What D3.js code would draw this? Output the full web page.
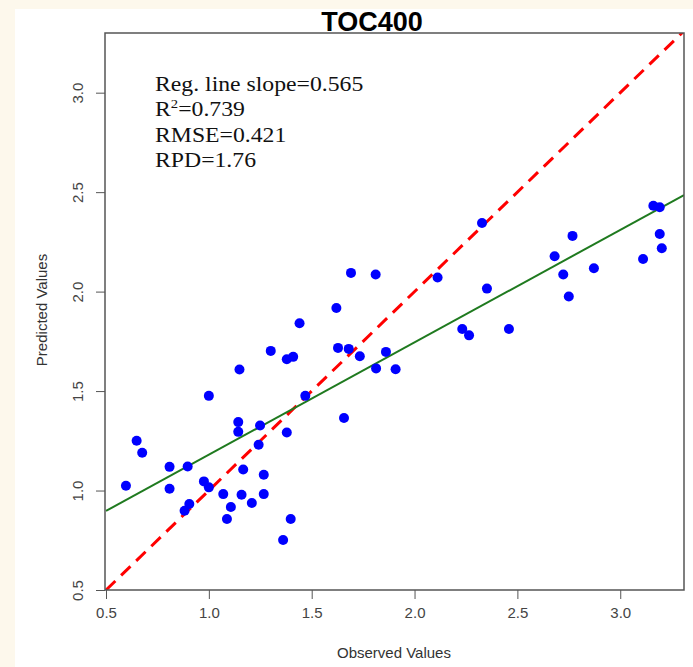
<!DOCTYPE html>
<html>
<head>
<meta charset="utf-8">
<script src="https://cdn.jsdelivr.net/npm/d3@7"></script>
<style>
  body { margin: 0; background: #fdf8ec; }
</style>
</head>
<body>
<div id="chart"></div>
<script>
const observed = [
  0.597, 0.649, 0.676, 0.809, 0.809, 0.897, 0.882, 0.905, 0.976, 1.000,
  1.000, 1.070, 1.088, 1.107, 1.143, 1.143, 1.149, 1.167, 1.159, 1.209,
  1.242, 1.249, 1.267, 1.267, 1.301, 1.361, 1.379, 1.398, 1.379, 1.410,
  1.441, 1.469, 1.620, 1.628, 1.657, 1.680, 1.691, 1.734, 1.811, 1.813,
  1.861, 1.908, 2.112, 2.232, 2.265, 2.328, 2.352, 2.459, 2.681, 2.723,
  2.750, 2.768, 2.872, 3.111, 3.161, 3.192, 3.192, 3.202
];
const predicted = [
  1.024, 1.250, 1.190, 1.119, 1.009, 1.121, 0.898, 0.932, 1.046, 1.476,
  1.016, 0.982, 0.857, 0.917, 1.344, 1.295, 1.608, 1.106, 0.979, 0.937,
  1.230, 1.327, 1.079, 0.982, 1.702, 0.751, 1.660, 0.857, 1.292, 1.672,
  1.841, 1.476, 1.918, 1.717, 1.365, 1.712, 2.094, 1.675, 2.086, 1.614,
  1.697, 1.610, 2.071, 1.812, 1.780, 2.345, 2.015, 1.812, 2.178, 2.086,
  1.975, 2.280, 2.117, 2.164, 2.432, 2.424, 2.290, 2.218
];
const tickValues = [0.5, 1.0, 1.5, 2.0, 2.5, 3.0];
const regSlope = 0.565;
const regIntercept = 0.615;
const statLines = ['Reg. line slope=0.565', 'R2=0.739', 'RMSE=0.421', 'RPD=1.76'];

const width = 693;
const height = 667;
const plot = { left: 105, right: 684, top: 33, bottom: 590 };

const x = d3.scaleLinear().domain([0.5, 3.31]).range([plot.left + 1, plot.right]);
const y = d3.scaleLinear().domain([0.5, 3.3]).range([plot.bottom, plot.top]);

const svg = d3.select('#chart').append('svg')
  .attr('width', width)
  .attr('height', height)
  .style('display', 'block');

// white panel on the cream page
svg.append('rect')
  .attr('x', 15).attr('y', 9)
  .attr('width', width - 15).attr('height', height - 9)
  .attr('fill', '#ffffff');

svg.append('defs').append('clipPath').attr('id', 'clip')
  .append('rect')
  .attr('x', plot.left).attr('y', plot.top)
  .attr('width', plot.right - plot.left).attr('height', plot.bottom - plot.top);

const xAxis = d3.axisBottom(x).tickValues(tickValues).tickFormat(d3.format('.1f'))
  .tickSize(9).tickPadding(8).tickSizeOuter(0);
const yAxis = d3.axisLeft(y).tickValues(tickValues).tickFormat(d3.format('.1f'))
  .tickSize(9).tickPadding(10).tickSizeOuter(0);

const gx = svg.append('g')
  .attr('transform', 'translate(0,' + plot.bottom + ')')
  .call(xAxis);
gx.select('.domain').remove();

const gy = svg.append('g')
  .attr('transform', 'translate(' + plot.left + ',0)')
  .call(yAxis);
gy.select('.domain').remove();
// R style: y labels run parallel to the axis
gy.selectAll('.tick text')
  .attr('x', 0)
  .attr('y', -27)
  .attr('dy', '0.35em')
  .attr('transform', 'rotate(-90)')
  .style('text-anchor', 'middle');

svg.selectAll('.tick line').attr('stroke', '#555');
svg.selectAll('.tick text')
  .attr('fill', '#444')
  .style('font-family', 'Liberation Sans, Arial, sans-serif')
  .style('font-size', '15px');

const g = svg.append('g').attr('clip-path', 'url(#clip)');

// 1:1 line
g.append('line')
  .attr('x1', x(0.5)).attr('y1', y(0.5))
  .attr('x2', x(3.31)).attr('y2', y(3.31))
  .attr('stroke', '#ff0000')
  .attr('stroke-width', 3)
  .attr('stroke-dasharray', '13,8');

// regression line
const xd = x.domain();
g.append('line')
  .attr('x1', x(xd[0])).attr('y1', y(regIntercept + regSlope * xd[0]))
  .attr('x2', x(xd[1])).attr('y2', y(regIntercept + regSlope * xd[1]))
  .attr('stroke', '#1f7a1f')
  .attr('stroke-width', 2);

g.selectAll('circle')
  .data(observed.map((d, i) => [d, predicted[i]]))
  .enter().append('circle')
    .attr('cx', d => x(d[0]))
    .attr('cy', d => y(d[1]))
    .attr('r', 5)
    .attr('fill', '#0000ff');

// plot frame
svg.append('rect')
  .attr('x', plot.left).attr('y', plot.top)
  .attr('width', plot.right - plot.left).attr('height', plot.bottom - plot.top)
  .attr('fill', 'none')
  .attr('stroke', '#555')
  .attr('stroke-width', 1.5);

// stats text, stretched a little to match the wider latex font
const stats = svg.append('g')
  .attr('transform', 'translate(155,0) scale(1.13,1)')
  .style('font-family', 'Liberation Serif, Times New Roman, serif')
  .style('font-size', '21px')
  .attr('fill', '#111');
statLines.forEach((s, i) => {
  const t = stats.append('text').attr('x', 0).attr('y', 91 + i * 25.5);
  if (s.startsWith('R2')) {
    t.append('tspan').text('R');
    t.append('tspan').attr('dy', -8).style('font-size', '13px').text('2');
    t.append('tspan').attr('dy', 8).text(s.slice(2));
  } else {
    t.text(s);
  }
});

svg.append('text')
  .attr('x', 372).attr('y', 31)
  .attr('text-anchor', 'middle')
  .style('font-family', 'Liberation Sans, Arial, sans-serif')
  .style('font-weight', 'bold')
  .style('font-size', '27px')
  .text('TOC400');

svg.append('text')
  .attr('x', 394).attr('y', 658)
  .attr('text-anchor', 'middle')
  .attr('fill', '#333')
  .style('font-family', 'Liberation Sans, Arial, sans-serif')
  .style('font-size', '15px')
  .text('Observed Values');

svg.append('text')
  .attr('transform', 'translate(47,310) rotate(-90)')
  .attr('text-anchor', 'middle')
  .attr('fill', '#333')
  .style('font-family', 'Liberation Sans, Arial, sans-serif')
  .style('font-size', '15px')
  .text('Predicted Values');
</script>
</body>
</html>
